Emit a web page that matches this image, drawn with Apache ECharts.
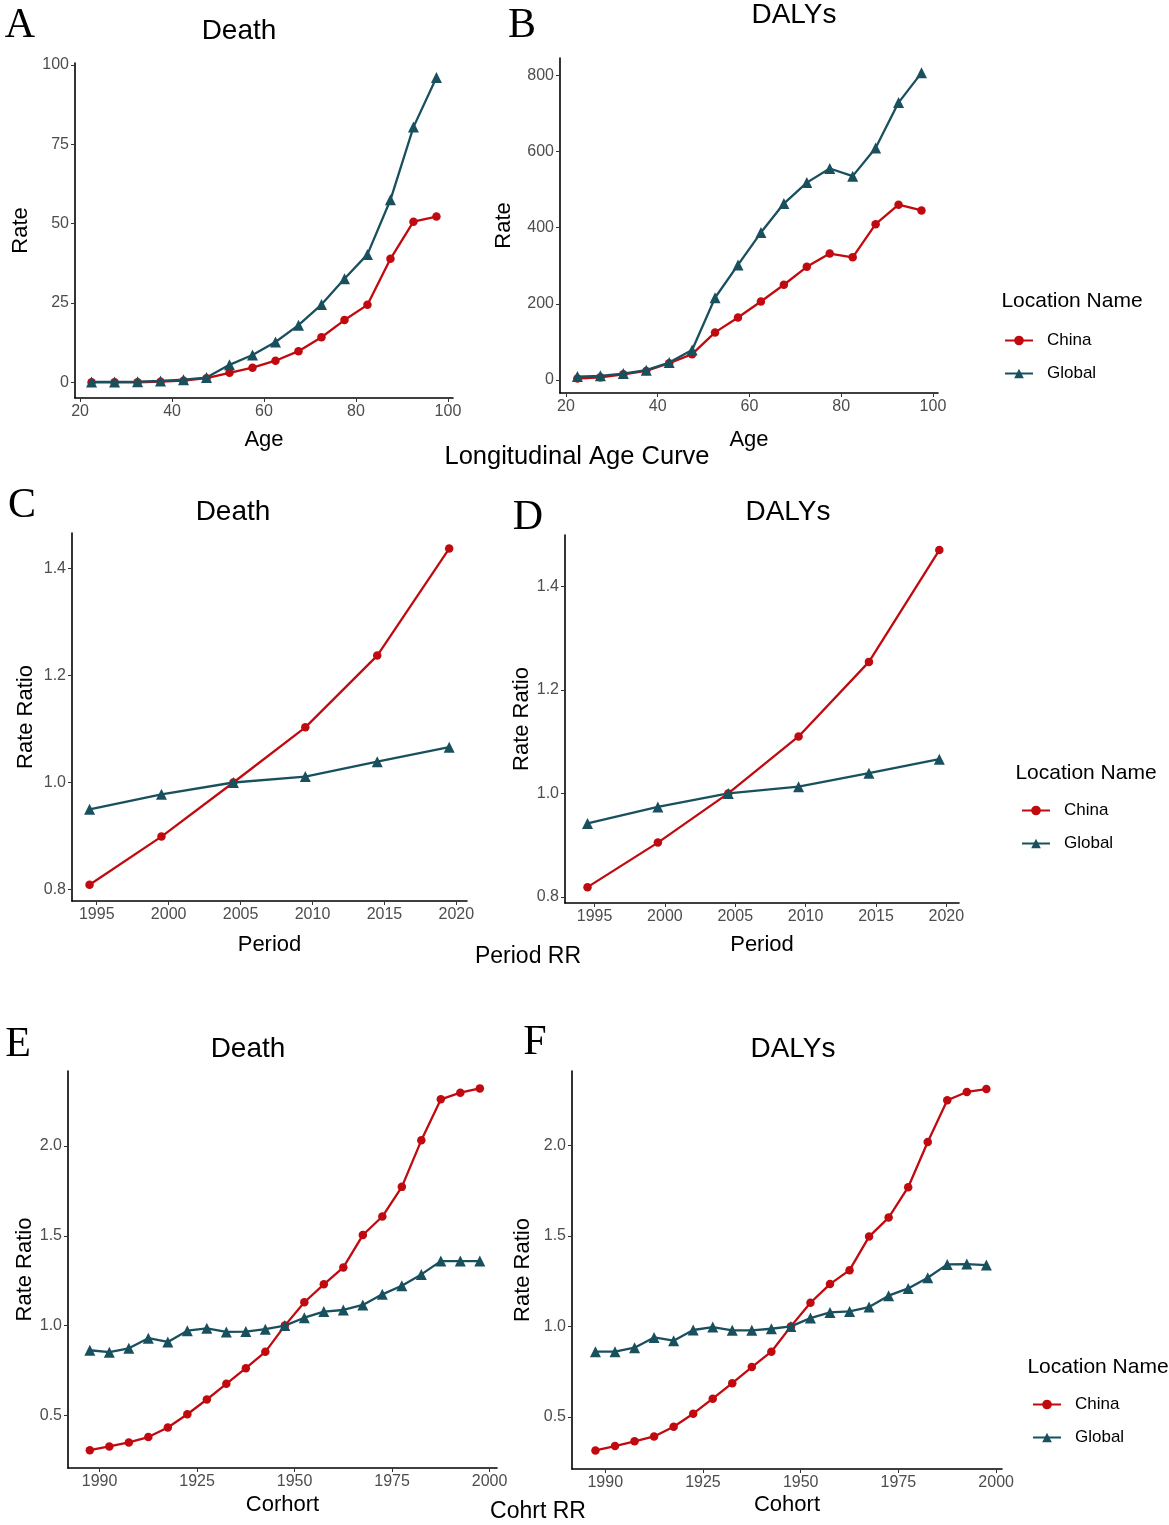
<!DOCTYPE html>
<html>
<head>
<meta charset="utf-8">
<script src="https://cdn.jsdelivr.net/npm/echarts@6/dist/echarts.min.js"></script>
<style>
  html, body { margin: 0; padding: 0; background: #fff; }
  #main { width: 1169px; height: 1525px; }
</style>
</head>
<body>
<div id="main"></div>
<script>
// ---- data ----
const ageMid = [22.5, 27.5, 32.5, 37.5, 42.5, 47.5, 52.5, 57.5, 62.5, 67.5, 72.5, 77.5, 82.5, 87.5, 92.5, 97.5];
const periodMid = [1994.5, 1999.5, 2004.5, 2009.5, 2014.5, 2019.5];
const cohortMid = [1897.5, 1902.5, 1907.5, 1912.5, 1917.5, 1922.5, 1927.5, 1932.5, 1937.5, 1942.5, 1947.5,
                   1952.5, 1957.5, 1962.5, 1967.5, 1972.5, 1977.5, 1982.5, 1987.5, 1992.5, 1997.5];

const deathAgeChina  = [0, 0, 0, 0.2, 0.5, 1.3, 3.0, 4.6, 6.8, 9.8, 14.2, 19.6, 24.4, 38.9, 50.6, 52.2];
const deathAgeGlobal = [0.1, 0.1, 0.2, 0.4, 0.8, 1.5, 5.5, 8.6, 12.7, 18.0, 24.5, 32.6, 40.3, 57.5, 80.4, 96.0];
const dalyAgeChina   = [4, 7, 15, 24, 44, 68, 125, 164, 206, 250, 297, 332, 322, 409, 460, 445];
const dalyAgeGlobal  = [9, 11, 17, 26, 46, 79, 216, 302, 387, 463, 518, 555, 535, 609, 728, 806];

const deathPeriodChina  = [0.809, 0.899, 1.0, 1.103, 1.237, 1.437];
const deathPeriodGlobal = [0.950, 0.978, 1.0, 1.011, 1.039, 1.066];
const dalyPeriodChina   = [0.819, 0.905, 1.0, 1.110, 1.254, 1.470];
const dalyPeriodGlobal  = [0.942, 0.974, 1.0, 1.013, 1.039, 1.066];

const deathCohortChina  = [0.307, 0.328, 0.350, 0.380, 0.433, 0.507, 0.589, 0.676, 0.763, 0.854, 1.0,
                           1.130, 1.230, 1.324, 1.504, 1.607, 1.772, 2.031, 2.259, 2.296, 2.320];
const deathCohortGlobal = [0.863, 0.852, 0.874, 0.930, 0.909, 0.972, 0.985, 0.965, 0.967, 0.980, 1.0,
                           1.044, 1.078, 1.087, 1.115, 1.174, 1.222, 1.285, 1.359, 1.359, 1.359];
const dalyCohortChina   = [0.314, 0.338, 0.364, 0.391, 0.445, 0.517, 0.600, 0.686, 0.775, 0.860, 1.0,
                           1.131, 1.234, 1.311, 1.497, 1.602, 1.770, 2.020, 2.251, 2.297, 2.313];
const dalyCohortGlobal  = [0.860, 0.860, 0.882, 0.939, 0.921, 0.980, 0.996, 0.978, 0.978, 0.987, 1.0,
                           1.046, 1.077, 1.083, 1.107, 1.170, 1.210, 1.269, 1.343, 1.345, 1.339];

const ageTicks = [20, 40, 60, 80, 100];
const periodTicks = [1995, 2000, 2005, 2010, 2015, 2020];
const cohortTicks = [1900, 1925, 1950, 1975, 2000];
const cohortTickLabels = ['1990', '1925', '1950', '1975', '2000'];
const deathAgeTicks = [0, 25, 50, 75, 100];
const dalyAgeTicks = [0, 200, 400, 600, 800];
const periodRRTicks = [0.8, 1.0, 1.2, 1.4];
const cohortRRTicks = [0.5, 1.0, 1.5, 2.0];

const seriesNames = ['China', 'Global'];
// -----------------------------------

const RED = '#C00A0F';
const TEAL = '#19505E';
const FONT = 'Liberation Sans, Arial, sans-serif';
const SERIF = 'Liberation Serif, Times New Roman, serif';

const pairs = (xs, ys) => xs.map((x, i) => [x, ys[i]]);

const panels = [
  { grid: [75, 63, 378, 335], x: [18.9, 101.1], y: [-4.95, 100.6], xt: ageTicks, yt: deathAgeTicks,
    xName: 'Age', yName: 'Rate', xGap: 31, yGap: 43, xs: ageMid, china: deathAgeChina, global: deathAgeGlobal, dec: 0 },
  { grid: [560, 58, 378, 335], x: [18.7, 101.1], y: [-34, 845], xt: ageTicks, yt: dalyAgeTicks,
    xName: 'Age', yName: 'Rate', xGap: 36, yGap: 45, xs: ageMid, china: dalyAgeChina, global: dalyAgeGlobal, dec: 0 },
  { grid: [72, 533, 395, 368], x: [1993.28, 2020.74], y: [0.7787, 1.466], xt: periodTicks, yt: periodRRTicks,
    xName: 'Period', yName: 'Rate Ratio', xGap: 33, yGap: 35, xs: periodMid, china: deathPeriodChina, global: deathPeriodGlobal, dec: 1 },
  { grid: [565, 535, 394, 368], x: [1992.9, 2020.9], y: [0.7884, 1.499], xt: periodTicks, yt: periodRRTicks,
    xName: 'Period', yName: 'Rate Ratio', xGap: 31, yGap: 31, xs: periodMid, china: dalyPeriodChina, global: dalyPeriodGlobal, dec: 1 },
  { grid: [68, 1071, 429, 397], x: [1891.9, 2001.9], y: [0.2078, 2.4167], xt: cohortTicks, yt: cohortRRTicks,
    xName: 'Corhort', yName: 'Rate Ratio', xGap: 26, yGap: 31, xs: cohortMid, china: deathCohortChina, global: deathCohortGlobal, dec: 1, cohort: true },
  { grid: [572, 1071, 430, 398], x: [1891.5, 2001.5], y: [0.211, 2.413], xt: cohortTicks, yt: cohortRRTicks,
    xName: 'Cohort', yName: 'Rate Ratio', xGap: 25, yGap: 38, xs: cohortMid, china: dalyCohortChina, global: dalyCohortGlobal, dec: 1, cohort: true }
];

const axisCommon = {
  axisLine: { onZero: false, lineStyle: { color: '#000', width: 1.6 } },
  axisTick: { show: true, length: 4, lineStyle: { color: '#333', width: 1 } },
  splitLine: { show: false }
};

const grids = [], xAxes = [], yAxes = [], series = [];
panels.forEach((p, i) => {
  grids.push({ left: p.grid[0], top: p.grid[1], width: p.grid[2], height: p.grid[3], containLabel: false });
  xAxes.push(Object.assign({}, axisCommon, {
    type: 'value', gridIndex: i, min: p.x[0], max: p.x[1],
    axisTick: Object.assign({}, axisCommon.axisTick, { customValues: p.xt }),
    axisLabel: {
      customValues: p.xt, margin: 6, color: '#4D4D4D', fontSize: 16, fontFamily: FONT,
      formatter: v => p.cohort ? cohortTickLabels[cohortTicks.indexOf(v)] : String(v)
    },
    name: p.xName, nameLocation: 'middle', nameGap: p.xGap,
    nameTextStyle: { color: '#000', fontSize: 22, fontFamily: FONT }
  }));
  yAxes.push(Object.assign({}, axisCommon, {
    type: 'value', gridIndex: i, min: p.y[0], max: p.y[1],
    axisTick: Object.assign({}, axisCommon.axisTick, { customValues: p.yt }),
    axisLabel: {
      customValues: p.yt, margin: 6, color: '#4D4D4D', fontSize: 16, fontFamily: FONT,
      formatter: v => v.toFixed(p.dec)
    },
    name: p.yName, nameLocation: 'middle', nameGap: p.yGap,
    nameTextStyle: { color: '#000', fontSize: 22, fontFamily: FONT }
  }));
  series.push({
    name: seriesNames[0], type: 'line', xAxisIndex: i, yAxisIndex: i,
    data: pairs(p.xs, p.china), symbol: 'circle', symbolSize: 8.5,
    lineStyle: { color: RED, width: 2.3 }, itemStyle: { color: RED }, color: RED,
    animation: false, z: 2
  });
  series.push({
    name: seriesNames[1], type: 'line', xAxisIndex: i, yAxisIndex: i,
    data: pairs(p.xs, p.global), symbol: 'triangle', symbolSize: 11,
    lineStyle: { color: TEAL, width: 2.3 }, itemStyle: { color: TEAL }, color: TEAL,
    animation: false, z: 3
  });
});

const legendAt = (left, top) => ({
  data: seriesNames, orient: 'vertical', left: left, top: top, padding: 0,
  itemWidth: 28, itemHeight: 12, itemGap: 16,
  textStyle: { color: '#000', fontSize: 17, fontFamily: FONT, padding: [0, 0, 0, 9] },
  selectedMode: false
});

const txt = (x, y, text, size, family) => ({
  type: 'text', x: x, y: y,
  style: { text: text, fontSize: size, fontFamily: family || FONT, fill: '#000',
    textAlign: 'center', textVerticalAlign: 'middle' }
});

const graphics = [
  txt(20, 26, 'A', 42, SERIF), txt(522, 26, 'B', 42, SERIF),
  txt(22, 506, 'C', 42, SERIF), txt(528, 518, 'D', 42, SERIF),
  txt(18, 1045, 'E', 42, SERIF), txt(535, 1043, 'F', 42, SERIF),
  txt(239, 31, 'Death', 28), txt(794, 15, 'DALYs', 28),
  txt(233, 512, 'Death', 28), txt(788, 512, 'DALYs', 28),
  txt(248, 1049, 'Death', 28), txt(793, 1049, 'DALYs', 28),
  txt(577, 457, 'Longitudinal Age Curve', 25.5),
  txt(528, 957, 'Period RR', 23),
  txt(538, 1512, 'Cohrt RR', 23),
  txt(1072, 301, 'Location Name', 21),
  txt(1086, 773, 'Location Name', 21),
  txt(1098, 1367, 'Location Name', 21)
];

const chart = echarts.init(document.getElementById('main'));
chart.setOption({
  backgroundColor: '#fff',
  animation: false,
  grid: grids,
  xAxis: xAxes,
  yAxis: yAxes,
  legend: [legendAt(1004, 332), legendAt(1021, 802), legendAt(1032, 1396)],
  graphic: graphics,
  series: series
});
</script>
</body>
</html>
